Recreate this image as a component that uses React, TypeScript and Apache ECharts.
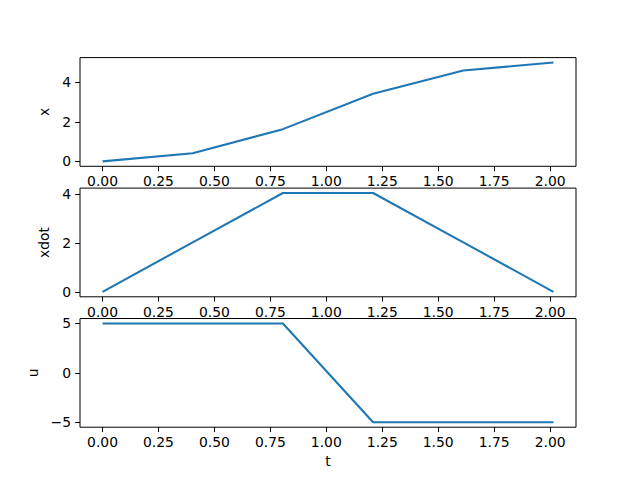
import React, { useEffect, useRef } from "react";
import * as echarts from "echarts";

const tVals = [0, 0.403, 0.806, 1.209, 1.612, 2.015];
const xVals = [0, 0.41, 1.63, 3.42, 4.6, 5.0];
const xdotVals = [0, 2.02, 4.03, 4.03, 2.02, 0];
const uVals = [5, 5, 5, -5, -5, -5];

const tTicks = [0, 0.25, 0.5, 0.75, 1.0, 1.25, 1.5, 1.75, 2.0];
const xTicks = [0, 2, 4];
const xdotTicks = [0, 2, 4];
const uTicks = [-5, 0, 5];

const yNames = ["x", "xdot", "u"];

const FONT = "DejaVu Sans";
const FS = 13.9;
const BLUE = "#1f77b4";

function lim(arr: number[]) {
  const lo = Math.min(...arr);
  const hi = Math.max(...arr);
  const m = (hi - lo) * 0.05;
  return [lo - m, hi + m];
}

const fmtMinus = (s: string) => s.replace("-", "\u2212");

export default function App() {
  const ref = useRef<HTMLDivElement>(null);
  useEffect(() => {
    if (!ref.current) return;
    const chart = echarts.init(ref.current, undefined, { renderer: "svg" });
    const tops = [57.6, 188.1, 318.5];
    const h = 108.7;
    const [tmin, tmax] = lim(tVals);
    const ySets = [xVals, xdotVals, uVals];
    const yTickSets = [xTicks, xdotTicks, uTicks];
    const nameGaps = [24, 24, 35];

    const grids = tops.map((top) => ({
      left: 80,
      top,
      width: 496,
      height: h,
      show: true,
      borderColor: "#000",
      borderWidth: 1,
      backgroundColor: "transparent",
      containLabel: false,
    }));

    const xAxes = tops.map((_, i) => ({
      type: "value",
      gridIndex: i,
      position: "bottom",
      min: tmin,
      max: tmax,
      name: i === 2 ? "t" : "",
      nameLocation: "middle",
      nameGap: 27,
      nameTextStyle: { fontFamily: FONT, fontSize: FS, color: "#000" },
      axisLine: { show: false, onZero: false },
      splitLine: { show: false },
      axisTick: {
        show: true,
        length: 4.9,
        inside: false,
        lineStyle: { color: "#000", width: 1 },
        customValues: tTicks,
      },
      axisLabel: {
        show: true,
        margin: 8,
        fontFamily: FONT,
        fontSize: FS,
        color: "#000",
        customValues: tTicks,
        formatter: (v: number) => v.toFixed(2),
      },
    }));

    const yAxes = tops.map((_, i) => {
      const [lo, hi] = lim(ySets[i]);
      return {
        type: "value",
        gridIndex: i,
        position: "left",
        min: lo,
        max: hi,
        name: yNames[i],
        nameLocation: "middle",
        nameGap: nameGaps[i],
        nameRotate: 90,
        nameTextStyle: { fontFamily: FONT, fontSize: FS, color: "#000" },
        axisLine: { show: false, onZero: false },
        splitLine: { show: false },
        axisTick: {
          show: true,
          length: 4.9,
          inside: false,
          lineStyle: { color: "#000", width: 1 },
          customValues: yTickSets[i],
        },
        axisLabel: {
          show: true,
          margin: 9,
          fontFamily: FONT,
          fontSize: FS,
          color: "#000",
          customValues: yTickSets[i],
          formatter: (v: number) => fmtMinus(String(Math.round(v))),
        },
      };
    });

    const series = ySets.map((ys, i) => ({
      type: "line",
      xAxisIndex: i,
      yAxisIndex: i,
      data: tVals.map((t, k) => [t, ys[k]]),
      showSymbol: false,
      lineStyle: { color: BLUE, width: 2.1 },
      itemStyle: { color: BLUE },
      clip: true,
    }));

    chart.setOption({
      animation: false,
      backgroundColor: "#fff",
      grid: grids,
      xAxis: xAxes,
      yAxis: yAxes,
      series,
    } as any);
    return () => chart.dispose();
  }, []);
  return (
    <div
      ref={ref}
      style={{ position: "fixed", left: 0, top: 0, width: 640, height: 480 }}
    />
  );
}
